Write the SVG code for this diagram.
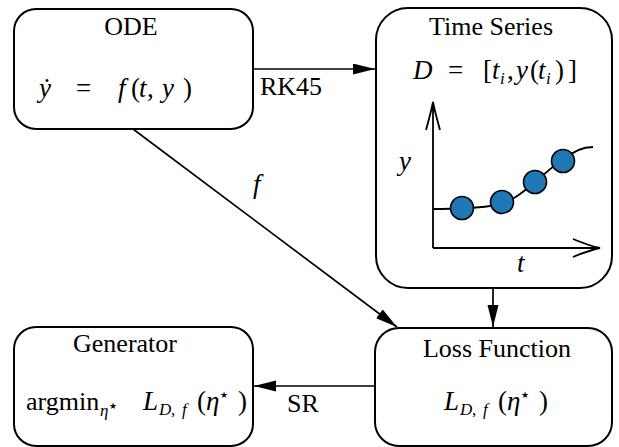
<svg xmlns="http://www.w3.org/2000/svg" width="619" height="447" viewBox="0 0 619 447">
  <style>
    .box { fill: #ffffff; stroke: #000000; stroke-width: 2; }
    .edge { fill: none; stroke: #000000; stroke-width: 1.7; }
    .axis { fill: none; stroke: #000000; stroke-width: 1.8; }
    text { font-family: 'Liberation Serif', 'Times New Roman', serif; fill: #000000; }
    .t { font-size: 26px; }
    .m { font-size: 27px; font-style: italic; }
    .r { font-style: normal; }
    .sub { font-size: 17px; }
    .star { font-size: 9px; font-style: normal; font-family: 'DejaVu Sans', sans-serif; }
    .pt { fill: #1f77b4; stroke: #000000; stroke-width: 1.6; }
  </style>
  <defs>
    <marker id="head" markerUnits="userSpaceOnUse" markerWidth="24" markerHeight="12" refX="22" refY="5.5" orient="auto">
      <path d="M0,0 L22,5.5 L0,11 Z" fill="#000000"/>
    </marker>
  </defs>

  <!-- connectors -->
  <g id="connectors">
    <line class="edge" x1="253" y1="69" x2="375" y2="69" marker-end="url(#head)"/>
    <text class="t" x="260" y="95">RK45</text>
    <line class="edge" x1="133" y1="129" x2="397" y2="327" marker-end="url(#head)"/>
    <text class="m" x="253" y="193">f</text>
    <line class="edge" x1="493" y1="288" x2="493" y2="327" marker-end="url(#head)"/>
    <line class="edge" x1="375" y1="386" x2="254" y2="386" marker-end="url(#head)"/>
    <text class="t" x="287" y="412">SR</text>
  </g>

  <!-- ODE node -->
  <g id="ode">
    <rect class="box" x="14" y="9" width="239" height="120" rx="22" ry="22"/>
    <text class="t" x="131" y="35" text-anchor="middle">ODE</text>
    <text class="m" y="97">
      <tspan x="39">y&#x307;</tspan>
      <tspan class="r" x="76">=</tspan>
      <tspan x="118">f</tspan>
      <tspan class="r" x="131">(</tspan>
      <tspan x="139">t</tspan>
      <tspan class="r" x="147">,</tspan>
      <tspan x="162">y</tspan>
      <tspan class="r" x="183">)</tspan>
    </text>
  </g>

  <!-- Time series node with sketch plot -->
  <g id="timeseries">
    <rect class="box" x="376" y="8" width="236" height="280" rx="32" ry="32"/>
    <text class="t" x="491" y="35" text-anchor="middle">Time Series</text>
    <text class="m" y="79">
      <tspan x="413">D</tspan>
      <tspan class="r" x="448">=</tspan>
      <tspan class="r" x="483">[</tspan>
      <tspan x="492">t</tspan><tspan class="sub" x="500" dy="5">i</tspan>
      <tspan class="r" x="507" dy="-5">,</tspan>
      <tspan x="516">y</tspan>
      <tspan class="r" x="530">(</tspan>
      <tspan x="538">t</tspan><tspan class="sub" x="546" dy="5">i</tspan>
      <tspan class="r" x="555" dy="-5">)</tspan>
      <tspan class="r" x="568">]</tspan>
    </text>
    <!-- axes -->
    <path class="axis" d="M433,248 L433,102 M426,130 Q431,112 433,102 Q435,112 440,130"/>
    <path class="axis" d="M433,248 L600,248 M573,239 Q590,246 600,248 Q590,250 573,257"/>
    <text class="m" x="399" y="170">y</text>
    <text class="m" x="517" y="272">t</text>
    <!-- fitted curve and samples -->
    <path class="axis" d="M433,209 C450,209 470,209 490,206 C510,203 520,195 535,182 C548,171 555,164 563,160 C572,152 582,147 593,147"/>
    <circle class="pt" cx="462" cy="208" r="11.5"/>
    <circle class="pt" cx="502" cy="202" r="11.5"/>
    <circle class="pt" cx="535" cy="182" r="11.5"/>
    <circle class="pt" cx="563" cy="161" r="11.5"/>
  </g>

  <!-- Generator node -->
  <g id="generator">
    <rect class="box" x="14" y="327" width="239" height="119" rx="22" ry="22"/>
    <text class="t" x="125" y="352" text-anchor="middle">Generator</text>
    <text class="t" x="26" y="410">argmin</text>
    <text class="m" y="410">
      <tspan class="sub" x="100" dy="6">η</tspan>
      <tspan class="star" x="109" dy="-7">★</tspan>
      <tspan x="143" dy="1">L</tspan>
      <tspan class="sub" x="159" dy="5">D</tspan>
      <tspan class="sub r" x="171">,</tspan>
      <tspan class="sub" x="182">f</tspan>
      <tspan class="r" x="197" dy="-5">(</tspan>
      <tspan x="206">η</tspan>
      <tspan class="star" x="220" dy="-12">★</tspan>
      <tspan class="r" x="238" dy="12">)</tspan>
    </text>
  </g>

  <!-- Loss node -->
  <g id="loss">
    <rect class="box" x="375" y="328" width="237" height="118" rx="24" ry="24"/>
    <text class="t" x="497" y="357" text-anchor="middle">Loss Function</text>
    <text class="m" y="410">
      <tspan x="444">L</tspan>
      <tspan class="sub" x="460" dy="5">D</tspan>
      <tspan class="sub r" x="472">,</tspan>
      <tspan class="sub" x="483">f</tspan>
      <tspan class="r" x="498" dy="-5">(</tspan>
      <tspan x="507">η</tspan>
      <tspan class="star" x="521" dy="-12">★</tspan>
      <tspan class="r" x="539" dy="12">)</tspan>
    </text>
  </g>
</svg>
